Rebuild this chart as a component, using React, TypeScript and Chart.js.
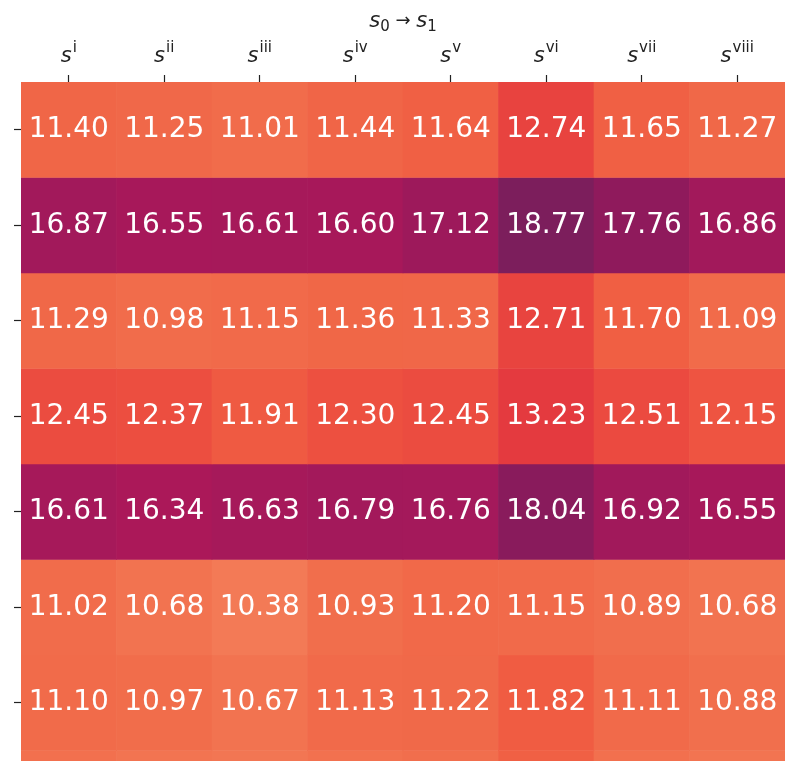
import React, { useEffect, useRef } from "react";
import { Chart, registerables } from "chart.js";

Chart.register(...registerables);

// ---- data ----
const colLabels = ["i", "ii", "iii", "iv", "v", "vi", "vii", "viii"];
const row1 = [11.40, 11.25, 11.01, 11.44, 11.64, 12.74, 11.65, 11.27];
const row2 = [16.87, 16.55, 16.61, 16.60, 17.12, 18.77, 17.76, 16.86];
const row3 = [11.29, 10.98, 11.15, 11.36, 11.33, 12.71, 11.70, 11.09];
const row4 = [12.45, 12.37, 11.91, 12.30, 12.45, 13.23, 12.51, 12.15];
const row5 = [16.61, 16.34, 16.63, 16.79, 16.76, 18.04, 16.92, 16.55];
const row6 = [11.02, 10.68, 10.38, 10.93, 11.20, 11.15, 10.89, 10.68];
const row7 = [11.10, 10.97, 10.67, 11.13, 11.22, 11.82, 11.11, 10.88];
const row8 = [10.80, 10.65, 10.55, 10.75, 10.90, 11.65, 10.80, 10.65]; // partially visible (cut off)
const rows = [row1, row2, row3, row4, row5, row6, row7, row8];

// ---- colour map (value -> rgb), approximating reversed "rocket" ----
const cmapValues = [10.0, 10.38, 10.68, 11.0, 11.4, 11.82, 12.3, 12.74, 13.23, 14.8, 16.34, 16.87, 17.76, 18.04, 18.77];
const cmapColors = [
  [244, 127, 90], [243, 122, 86], [242, 115, 80], [241, 108, 75], [240, 102, 71],
  [240, 92, 66], [237, 80, 64], [232, 67, 63], [228, 58, 63], [205, 30, 78],
  [171, 24, 89], [162, 25, 91], [143, 26, 92], [137, 27, 92], [124, 30, 92],
];

function colorFor(v: number): string {
  if (v <= cmapValues[0]) return `rgb(${cmapColors[0].join(",")})`;
  for (let i = 1; i < cmapValues.length; i++) {
    if (v <= cmapValues[i]) {
      const t = (v - cmapValues[i - 1]) / (cmapValues[i] - cmapValues[i - 1]);
      const a = cmapColors[i - 1];
      const b = cmapColors[i];
      const c = a.map((x, k) => Math.round(x + (b[k] - x) * t));
      return `rgb(${c.join(",")})`;
    }
  }
  return `rgb(${cmapColors[cmapColors.length - 1].join(",")})`;
}

const FONT = "'DejaVu Sans', sans-serif";

const labelPlugin = {
  id: "heatLabels",
  afterDatasetsDraw(chart: any) {
    const ctx = chart.ctx;
    const area = chart.chartArea;
    ctx.save();
    ctx.beginPath();
    ctx.rect(area.left, area.top, area.right - area.left, area.bottom - area.top);
    ctx.clip();
    ctx.fillStyle = "#ffffff";
    ctx.font = `28px ${FONT}`;
    ctx.textAlign = "center";
    ctx.textBaseline = "middle";
    chart.data.datasets.forEach((ds: any, r: number) => {
      const meta = chart.getDatasetMeta(r);
      meta.data.forEach((el: any, c: number) => {
        const yc = (el.y + el.base) / 2;
        ctx.fillText(rows[r][c].toFixed(2), el.x, yc);
      });
    });
    ctx.restore();
  },
  afterDraw(chart: any) {
    const ctx = chart.ctx;
    const xs = chart.scales.x;
    ctx.save();
    ctx.fillStyle = "#222";
    ctx.textBaseline = "alphabetic";
    ctx.textAlign = "left";
    // column labels s^{roman}
    colLabels.forEach((sup, i) => {
      const x = xs.getPixelForTick(i);
      ctx.font = `italic 21px ${FONT}`;
      const ws = ctx.measureText("s").width;
      ctx.font = `15px ${FONT}`;
      const wsup = ctx.measureText(sup).width;
      const total = ws + 1 + wsup;
      const x0 = x - total / 2;
      ctx.font = `italic 21px ${FONT}`;
      ctx.fillText("s", x0, 62);
      ctx.font = `15px ${FONT}`;
      ctx.fillText(sup, x0 + ws + 1, 52);
    });
    // title s_0 -> s_1
    const cx = (chart.chartArea.left + chart.chartArea.right) / 2;
    const parts: [string, string, number][] = [
      ["s", `italic 21px ${FONT}`, 0],
      ["0", `15px ${FONT}`, 4],
      [" \u2192 ", `18px ${FONT}`, -1],
      ["s", `italic 21px ${FONT}`, 0],
      ["1", `15px ${FONT}`, 4],
    ];
    let tw = 0;
    const widths = parts.map(([t, f]) => {
      ctx.font = f;
      const w = ctx.measureText(t).width;
      tw += w;
      return w;
    });
    let px = cx - tw / 2;
    parts.forEach(([t, f, dy], k) => {
      ctx.font = f;
      ctx.fillText(t, px, 27 + dy);
      px += widths[k];
    });
    ctx.restore();
  },
};

export default function App() {
  const ref = useRef<HTMLCanvasElement>(null);
  useEffect(() => {
    if (!ref.current) return;
    const datasets = rows.map((vals, r) => ({
      label: `row ${r + 1}`,
      data: vals.map(() => [r, r + 1]),
      backgroundColor: vals.map((v) => colorFor(v)),
      borderWidth: 0,
      borderSkipped: false,
      barPercentage: 1.0,
      categoryPercentage: 1.0,
      grouped: false,
    }));
    const chart = new Chart(ref.current, {
      type: "bar",
      data: { labels: colLabels.map((s) => "s" + s), datasets: datasets as any },
      options: {
        animation: false,
        responsive: false,
        devicePixelRatio: 1,
        events: [],
        layout: { padding: { left: 0, right: 17, top: 0, bottom: 0 } },
        plugins: { legend: { display: false }, tooltip: { enabled: false }, title: { display: false } },
        scales: {
          x: {
            type: "category",
            position: "top",
            offset: true,
            grid: { offset: false, drawOnChartArea: false, drawTicks: true, tickLength: 7, color: "#222", tickWidth: 1.2 },
            border: { display: false },
            ticks: { display: false },
            afterFit: (s: any) => { s.height = 82; },
          },
          y: {
            type: "linear",
            reverse: true,
            min: 0,
            max: 7.11,
            grid: { drawOnChartArea: false, drawTicks: true, tickLength: 7, color: "#222", tickWidth: 1.2 },
            border: { display: false },
            ticks: { display: false },
            afterBuildTicks: (s: any) => {
              s.ticks = [0.5, 1.5, 2.5, 3.5, 4.5, 5.5, 6.5].map((v) => ({ value: v }));
            },
            afterFit: (s: any) => { s.width = 21; },
          },
        },
      },
      plugins: [labelPlugin],
    });
    return () => chart.destroy();
  }, []);
  return (
    <div style={{ position: "fixed", left: 0, top: 0, width: 802, height: 761, background: "#fff" }}>
      <canvas ref={ref} width={802} height={761} style={{ display: "block" }} />
    </div>
  );
}
